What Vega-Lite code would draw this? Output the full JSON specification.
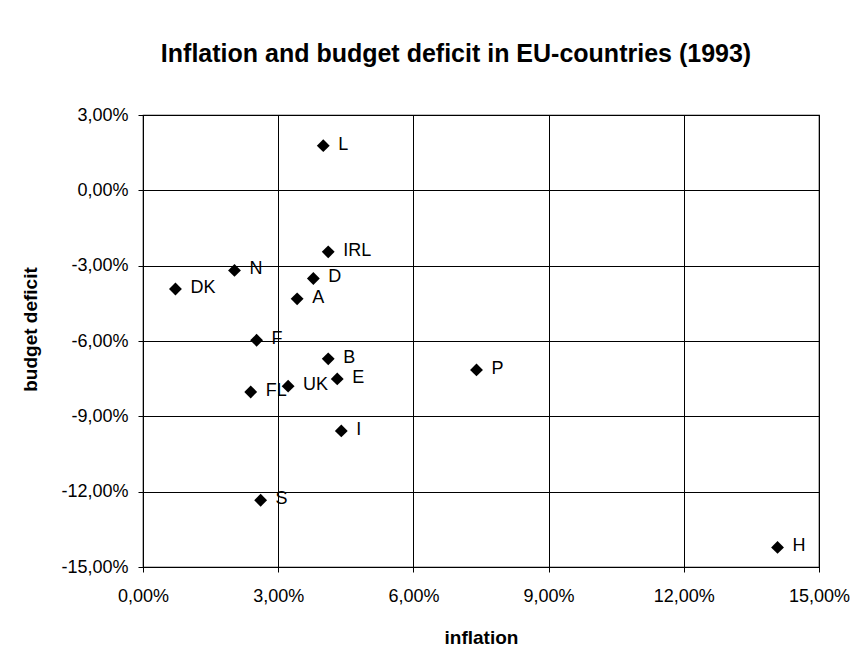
{
  "$schema": "https://vega.github.io/schema/vega-lite/v6.json",
  "width": 676,
  "height": 452,
  "autosize": {"type": "none"},
  "padding": {"left": 143, "top": 115, "right": 37, "bottom": 105},
  "background": "white",
  "title": {
    "text": "Inflation and budget deficit in EU-countries (1993)",
    "font": "Liberation Sans",
    "fontSize": 25,
    "fontWeight": "bold",
    "color": "black",
    "anchor": "middle",
    "frame": "group",
    "baseline": "alphabetic",
    "offset": 19,
    "dx": -25
  },
  "data": {
    "values": [
      {"country": "L", "inflation": 0.0400, "deficit": 0.0178},
      {"country": "IRL", "inflation": 0.0411, "deficit": -0.0245},
      {"country": "N", "inflation": 0.0203, "deficit": -0.0319},
      {"country": "D", "inflation": 0.0378, "deficit": -0.0351},
      {"country": "DK", "inflation": 0.0072, "deficit": -0.0393},
      {"country": "A", "inflation": 0.0342, "deficit": -0.0432},
      {"country": "F", "inflation": 0.0252, "deficit": -0.0597},
      {"country": "B", "inflation": 0.0411, "deficit": -0.0671},
      {"country": "E", "inflation": 0.0431, "deficit": -0.0751},
      {"country": "UK", "inflation": 0.0322, "deficit": -0.0780},
      {"country": "FL", "inflation": 0.0239, "deficit": -0.0803},
      {"country": "I", "inflation": 0.0440, "deficit": -0.0958},
      {"country": "S", "inflation": 0.0261, "deficit": -0.1234},
      {"country": "P", "inflation": 0.0740, "deficit": -0.0715},
      {"country": "H", "inflation": 0.1408, "deficit": -0.1422}
    ]
  },
  "encoding": {
    "x": {
      "field": "inflation",
      "type": "quantitative",
      "scale": {"domain": [0, 0.15], "nice": false, "zero": false},
      "axis": {
        "title": "inflation",
        "values": [0, 0.03, 0.06, 0.09, 0.12, 0.15],
        "format": ".2%",
        "titleY": 76,
        "titleBaseline": "alphabetic",
        "labelPadding": 15
      }
    },
    "y": {
      "field": "deficit",
      "type": "quantitative",
      "scale": {"domain": [-0.15, 0.03], "nice": false, "zero": false},
      "axis": {
        "title": "budget deficit",
        "values": [-0.15, -0.12, -0.09, -0.06, -0.03, 0, 0.03],
        "format": ".2%",
        "titleX": -113,
        "titleY": 214,
        "titleAngle": 270,
        "titleAlign": "center",
        "titleBaseline": "middle",
        "labelPadding": 10
      }
    }
  },
  "layer": [
    {
      "mark": {"type": "point", "shape": "diamond", "filled": true, "color": "black", "size": 165, "opacity": 1}
    },
    {
      "mark": {"type": "text", "align": "left", "baseline": "middle", "dx": 15, "dy": -1, "font": "Liberation Sans", "fontSize": 18, "color": "black"},
      "encoding": {"text": {"field": "country"}}
    }
  ],
  "config": {
    "locale": {
      "number": {"decimal": ",", "thousands": ".", "grouping": [3], "currency": ["", " €"], "minus": "-"}
    },
    "view": {"stroke": "black", "strokeWidth": 1.2},
    "axis": {
      "domain": false,
      "grid": true,
      "gridColor": "black",
      "gridWidth": 1,
      "gridOpacity": 1,
      "ticks": true,
      "tickColor": "black",
      "tickSize": 5,
      "labelFont": "Liberation Sans",
      "labelFontSize": 18,
      "labelColor": "black",
      "labelOverlap": false,
      "labelFlush": false,
      "titleFont": "Liberation Sans",
      "titleFontSize": 19,
      "titleFontWeight": "bold",
      "titleColor": "black"
    }
  }
}
